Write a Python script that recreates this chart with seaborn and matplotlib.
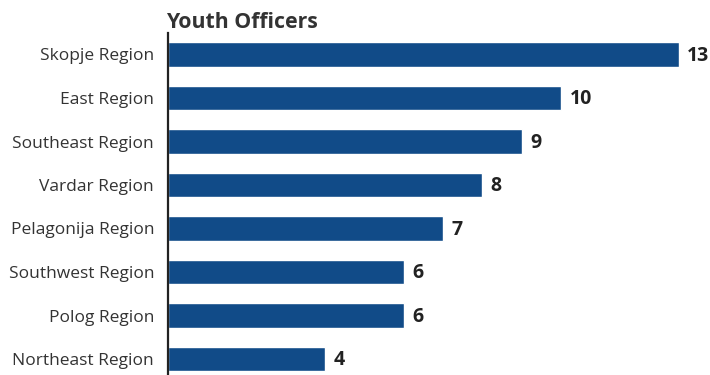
import matplotlib
matplotlib.use("Agg")
import matplotlib.pyplot as plt
import seaborn as sns
import pandas as pd

regions = ["Skopje Region", "East Region", "Southeast Region", "Vardar Region",
           "Pelagonija Region", "Southwest Region", "Polog Region", "Northeast Region"]
officers = [13, 10, 9, 8, 7, 6, 6, 4]
title = "Youth Officers"

sns.set_theme(style="white")
plt.rcParams["font.family"] = ["Open Sans", "DejaVu Sans"]

df = pd.DataFrame({"region": regions, "officers": officers})

fig = plt.figure(figsize=(7.10, 3.75), dpi=100)
ax = fig.add_axes([168 / 710, 0.0, (679 - 168) / 710, 1 - 33 / 375])

sns.barplot(data=df, y="region", x="officers", orient="h", color="#114B88",
            saturation=1, width=0.57, ax=ax)

ax.set_xlim(0, 13)
ax.set_ylim(7 + 16 / 43.5, -21.5 / 43.5)
ax.set_xlabel("")
ax.set_ylabel("")
ax.set_xticks([])
for s in ["top", "right", "bottom"]:
    ax.spines[s].set_visible(False)
ax.spines["left"].set_color("#222222")
ax.spines["left"].set_linewidth(1.6)
ax.tick_params(axis="y", length=0, pad=10, labelsize=12.5, labelcolor="#333333")

for i, v in enumerate(officers):
    ax.annotate(str(v), xy=(v, i), xytext=(6, -1), textcoords="offset points",
                ha="left", va="center", fontsize=14, fontweight="bold",
                color="#222222", annotation_clip=False)

fig.text(166 / 710, 1 - 28 / 375, title, ha="left", va="baseline",
         fontsize=15.3, fontweight="bold", color="#333333")

fig.savefig("out.png", dpi=100)
